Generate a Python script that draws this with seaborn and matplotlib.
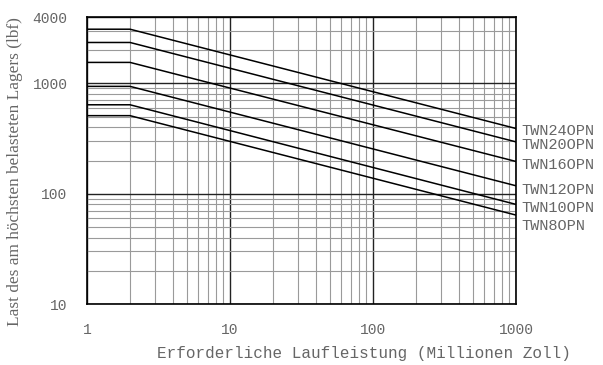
import matplotlib
matplotlib.use("Agg")
import matplotlib.pyplot as plt
import matplotlib.ticker as mticker
import seaborn as sns
import pandas as pd

# Werte
laufleistung = [1, 2, 1000]
typen = ["TWN24OPN", "TWN20OPN", "TWN16OPN", "TWN12OPN", "TWN10OPN", "TWN8OPN"]
last_twn24 = [3100, 3100, 390]
last_twn20 = [2350, 2350, 295]
last_twn16 = [1550, 1550, 196]
last_twn12 = [940, 940, 118]
last_twn10 = [640, 640, 80]
last_twn8 = [510, 510, 64]
label_y = [372, 276, 183, 107, 74, 50.5]

lasten = [last_twn24, last_twn20, last_twn16, last_twn12, last_twn10, last_twn8]
rows = []
for t, werte in zip(typen, lasten):
    for x, y in zip(laufleistung, werte):
        rows.append({"typ": t, "L": x, "P": y})
df = pd.DataFrame(rows)

sns.set_style("white")
mono = ["Liberation Mono", "DejaVu Sans Mono"]
grau = "#666666"

fig = plt.figure(figsize=(6.03, 3.65), dpi=100)
ax = fig.add_axes([87/603, 1-304/365, (516-87)/603, (304-17)/365])

sns.lineplot(data=df, x="L", y="P", hue="typ", palette=["black"]*6,
             linewidth=1.1, legend=False, ax=ax, zorder=3)

ax.set_xscale("log")
ax.set_yscale("log")
ax.set_xlim(1, 1000)
ax.set_ylim(10, 4000)

ax.xaxis.set_major_locator(mticker.FixedLocator([1, 10, 100, 1000]))
ax.yaxis.set_major_locator(mticker.FixedLocator([10, 100, 1000, 4000]))
ax.xaxis.set_minor_locator(mticker.LogLocator(base=10, subs=range(2, 10)))
ax.yaxis.set_minor_locator(mticker.LogLocator(base=10, subs=range(2, 10)))
ax.xaxis.set_major_formatter(mticker.FuncFormatter(lambda v, p: f"{v:g}"))
ax.yaxis.set_major_formatter(mticker.FuncFormatter(lambda v, p: f"{v:g}"))
ax.xaxis.set_minor_formatter(mticker.NullFormatter())
ax.yaxis.set_minor_formatter(mticker.NullFormatter())

ax.grid(which="major", color="#222222", linewidth=1.0)
ax.grid(which="minor", color="#9a9a9a", linewidth=0.8)
ax.set_axisbelow(True)

for s in ax.spines.values():
    s.set_color("black")
    s.set_linewidth(1.2)

ax.tick_params(which="major", direction="out", length=10, width=1.0,
               color="black", labelsize=10.5, labelcolor=grau, pad=4)
ax.tick_params(which="minor", direction="out", length=5, width=0.8, color="black")
for lab in ax.get_xticklabels() + ax.get_yticklabels():
    lab.set_family(mono)

ax.set_xlabel("Erforderliche Laufleistung (Millionen Zoll)", family=mono,
              fontsize=11.5, color=grau, labelpad=6, x=0.646)
ax.set_ylabel("")

for t, yv in zip(typen, label_y):
    ax.annotate(t, xy=(1000, yv), xytext=(4, 0), textcoords="offset points",
                va="center", ha="left", family=mono, fontsize=11,
                color=grau, annotation_clip=False)

fig.text(15/603, 1-326/365, "Last des am höchsten belasteten Lagers (lbf)",
         rotation=90, ha="center", va="bottom", fontsize=12.4,
         family=["Liberation Serif", "DejaVu Serif"], color=grau)

fig.savefig("out.png", dpi=100)
